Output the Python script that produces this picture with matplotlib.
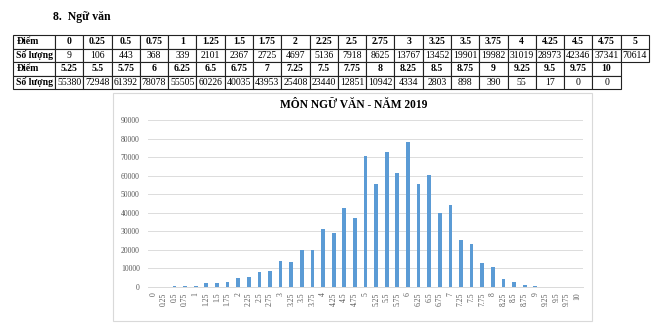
import numpy as np
import matplotlib
matplotlib.use("Agg")
from matplotlib import pyplot as plt
from matplotlib.patches import Rectangle

# Data
scores = ["0", "0.25", "0.5", "0.75", "1", "1.25", "1.5", "1.75", "2", "2.25",
          "2.5", "2.75", "3", "3.25", "3.5", "3.75", "4", "4.25", "4.5", "4.75",
          "5", "5.25", "5.5", "5.75", "6", "6.25", "6.5", "6.75", "7", "7.25",
          "7.5", "7.75", "8", "8.25", "8.5", "8.75", "9", "9.25", "9.5", "9.75", "10"]
counts = [9, 106, 443, 368, 339, 2101, 2367, 2725, 4697, 5136,
          7918, 8625, 13767, 13452, 19901, 19982, 31019, 28973, 42346, 37341,
          70614, 55380, 72948, 61392, 78078, 55505, 60226, 40035, 43953, 25408,
          23440, 12851, 10942, 4334, 2803, 898, 390, 55, 17, 0, 0]
row_labels = ["Điểm", "Số lượng"]
title = "MÔN NGỮ VĂN - NĂM 2019"
heading = "8.  Ngữ văn"

W, H = 660, 325
fig = plt.figure(figsize=(W / 100, H / 100), dpi=100)
serif = "Liberation Serif"

# Heading
fig.text(53 / W, 1 - 17 / H, heading, fontsize=8.5, fontweight="bold",
         family=serif, va="center", ha="left")

# Table: 4 rows, first 21 scores on top, remaining 20 below
n_top = 21
cells = [[row_labels[0]] + scores[:n_top],
         [row_labels[1]] + [str(c) for c in counts[:n_top]],
         [row_labels[0]] + scores[n_top:] + [""],
         [row_labels[1]] + [str(c) for c in counts[n_top:]] + [""]]

tab_l, tab_r, tab_t, tab_b = 13, 649, 35, 89
first_w = 42
col_w = (tab_r - tab_l - first_w) / n_top
widths = [first_w / (tab_r - tab_l)] + [col_w / (tab_r - tab_l)] * n_top

tax = fig.add_axes([tab_l / W, 1 - tab_b / H, (tab_r - tab_l) / W, (tab_b - tab_t) / H])
tax.axis("off")
tbl = tax.table(cellText=cells, colWidths=widths, bbox=[0, 0, 1, 1], cellLoc="center")
tbl.auto_set_font_size(False)
for (r, c), cell in tbl.get_celld().items():
    cell.set_linewidth(0.8)
    cell.set_edgecolor("#222222")
    txt = cell.get_text()
    txt.set_fontsize(7)
    txt.set_family(serif)
    if r in (0, 2) or c == 0:
        txt.set_fontweight("bold")
    if c == 0:
        txt.set_ha("left")
        cell.PAD = 0.08
    if r >= 2 and c == n_top:
        cell.visible_edges = ""

# Chart frame
fig.patches.append(Rectangle((113 / W, 1 - 321 / H), (592 - 113) / W, (321 - 93) / H,
                             transform=fig.transFigure, fill=False,
                             edgecolor="#d9d9d9", linewidth=0.8))

# Bar chart
ax = fig.add_axes([148 / W, 1 - 287 / H, (583 - 148) / W, (287 - 120) / H])
x = np.arange(len(scores))
ax.bar(x, counts, width=0.35, color="#5b9bd5", zorder=3)
ax.set_xlim(-0.5, len(scores) - 0.5)
ax.set_ylim(0, 90000)
ax.set_yticks(np.arange(0, 90001, 10000))
ax.set_xticks(x)
ax.set_xticklabels(scores, rotation=90, fontsize=5.5, family=serif, color="#595959")
ax.tick_params(axis="y", labelsize=5.5, labelcolor="#595959", length=0, pad=6)
ax.tick_params(axis="x", length=0, pad=4)
for lbl in ax.get_yticklabels():
    lbl.set_family(serif)
ax.grid(axis="y", color="#dcdcdc", linewidth=0.7, zorder=0)
for s in ["top", "right", "left"]:
    ax.spines[s].set_visible(False)
ax.spines["bottom"].set_color("#d9d9d9")
ax.spines["bottom"].set_linewidth(0.7)

fig.text(354 / W, 1 - 105 / H, title, fontsize=8.3, fontweight="bold",
         family=serif, ha="center", va="center")

fig.savefig("out.png", dpi=100)
